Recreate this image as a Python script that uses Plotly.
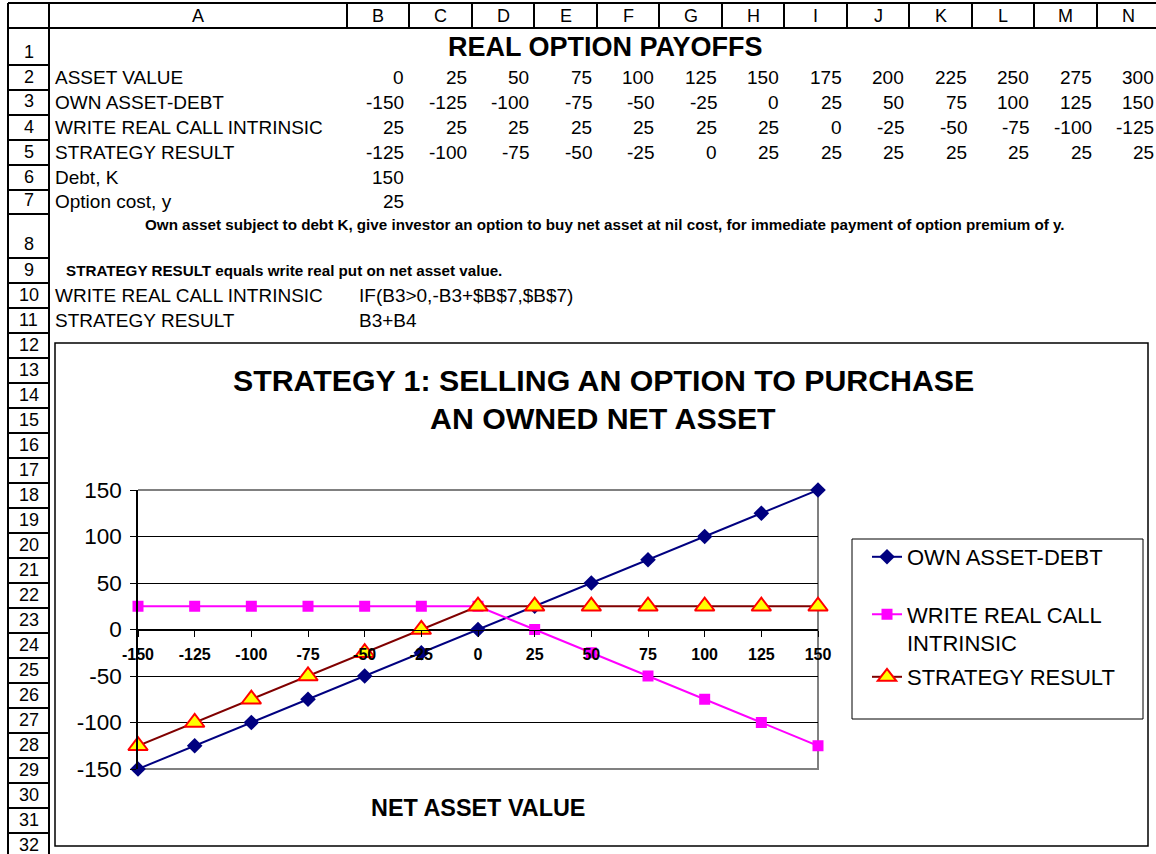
import plotly.graph_objects as go

W, H = 1156, 854

# spreadsheet data
columns = ["A", "B", "C", "D", "E", "F", "G", "H", "I", "J", "K", "L", "M", "N"]
asset_value = [0, 25, 50, 75, 100, 125, 150, 175, 200, 225, 250, 275, 300]
own_asset_debt = [-150, -125, -100, -75, -50, -25, 0, 25, 50, 75, 100, 125, 150]
write_call = [25, 25, 25, 25, 25, 25, 25, 0, -25, -50, -75, -100, -125]
strategy_result = [-125, -100, -75, -50, -25, 0, 25, 25, 25, 25, 25, 25, 25]
debt_k = 150
option_cost = 25

table_title = "REAL OPTION PAYOFFS"
row_names = ["ASSET VALUE", "OWN ASSET-DEBT", "WRITE REAL CALL INTRINSIC", "STRATEGY RESULT"]
note_row8 = ("Own asset subject to debt K, give investor an option to buy net asset at nil cost, "
             "for immediate payment of option premium of y.")
note_row9 = "STRATEGY RESULT equals write real put on net asset value."
formulas = [("WRITE REAL CALL INTRINSIC", "IF(B3>0,-B3+$B$7,$B$7)"),
            ("STRATEGY RESULT", "B3+B4")]

series_names = ["OWN ASSET-DEBT", "WRITE REAL CALL<br>INTRINSIC", "STRATEGY RESULT"]
y_ticks = [-150, -100, -50, 0, 50, 100, 150]

# sheet geometry (pixels)
col_edges = [8, 49, 347, 409, 472, 534, 597, 659, 722, 784, 847, 909, 972, 1034, 1097, 1159]
row_edges = [3, 28, 65, 90, 115, 140, 165, 190, 214, 258] + [258 + 25 * i for i in range(1, 25)]

FONT = "Arial, Liberation Sans, sans-serif"
TS = 19  # sheet text size


def X(p):
    return p / W


def Y(p):
    return 1 - p / H


shapes = []
annotations = []


def line(x0, y0, x1, y1, color="black", width=2):
    shapes.append(dict(type="line", xref="paper", yref="paper",
                       x0=X(x0), y0=Y(y0), x1=X(x1), y1=Y(y1),
                       line=dict(color=color, width=width)))


def text(x, y, s, anchor="left", size=TS, bold=False):
    annotations.append(dict(x=X(x), y=Y(y), xref="paper", yref="paper", text=s,
                            showarrow=False, xanchor=anchor, yanchor="middle",
                            font=dict(family=FONT, size=size, color="black",
                                      weight="bold" if bold else "normal")))


# headers
line(8, 3, 1156, 3)
line(8, 28, 1156, 28)
line(8, 3, 8, 854)
for xe in col_edges[1:]:
    line(xe, 3, xe, 28)
line(49, 3, 49, 854)
for ye in row_edges[1:]:
    line(8, ye, 49, ye)

for i, c in enumerate(columns):
    text((col_edges[i + 1] + col_edges[i + 2]) / 2, 16, c, anchor="center", size=18)
for r in range(1, len(row_edges) - 1):
    text(28.5, row_edges[r + 1] - 13.5, str(r), anchor="center", size=18)


def row_y(r):
    return row_edges[r + 1] - 12.5


# table contents
text(605, 47, table_title, anchor="center", size=27, bold=True)
for k, (name, vals) in enumerate(zip(row_names, [asset_value, own_asset_debt, write_call, strategy_result])):
    r = 2 + k
    text(53, row_y(r), name)
    for j, v in enumerate(vals):
        text(col_edges[3 + j] - 3, row_y(r), str(v), anchor="right")
text(53, row_y(6), "Debt, K")
text(col_edges[3] - 3, row_y(6), str(debt_k), anchor="right")
text(53, row_y(7), "Option cost, y")
text(col_edges[3] - 3, row_y(7), str(option_cost), anchor="right")
text(605, 224, note_row8, anchor="center", size=15.2, bold=True)
text(64, row_y(9), note_row9, size=15.2, bold=True)
for k, (a, b) in enumerate(formulas):
    text(53, row_y(10 + k), a)
    text(357, row_y(10 + k), b)

# chart frame
shapes.append(dict(type="rect", xref="paper", yref="paper", x0=X(55), y0=Y(846), x1=X(1148), y1=Y(343),
                   line=dict(color="black", width=1.5), fillcolor="white", layer="below"))
# plot area border (gray, top/right/bottom)
shapes.append(dict(type="path", xref="paper", yref="paper",
                   path="M %f,%f L %f,%f L %f,%f L %f,%f" % (X(138), Y(490), X(818), Y(490),
                                                            X(818), Y(769), X(138), Y(769)),
                   line=dict(color="#808080", width=2), layer="below"))
# legend box
shapes.append(dict(type="rect", xref="paper", yref="paper", x0=X(852), y0=Y(719), x1=X(1143), y1=Y(539),
                   line=dict(color="black", width=1)))

text(603, 380, "STRATEGY 1: SELLING AN OPTION TO PURCHASE", anchor="center", size=30.3, bold=True)
text(603, 418, "AN OWNED NET ASSET", anchor="center", size=30.3, bold=True)
text(478, 808, "NET ASSET VALUE", anchor="center", size=23.4, bold=True)

fig = go.Figure()
fig.add_trace(go.Scatter(
    x=own_asset_debt, y=own_asset_debt, name=series_names[0], mode="lines+markers",
    line=dict(color="#000080", width=2),
    marker=dict(symbol="diamond", size=12, color="#000080"),
    cliponaxis=False, legend="legend"))
fig.add_trace(go.Scatter(
    x=own_asset_debt, y=write_call, name=series_names[1], mode="lines+markers",
    line=dict(color="#FF00FF", width=2),
    marker=dict(symbol="square", size=11, color="#FF00FF"),
    cliponaxis=False, legend="legend2"))
fig.add_trace(go.Scatter(
    x=own_asset_debt, y=strategy_result, name=series_names[2], mode="lines+markers",
    line=dict(color="#800000", width=2),
    marker=dict(symbol="triangle-up", size=17, color="#FFFF00", line=dict(color="#FF0000", width=2)),
    cliponaxis=False, legend="legend3"))

leg = dict(font=dict(family=FONT, size=22, color="black"), bgcolor="rgba(0,0,0,0)",
           xanchor="left", yanchor="middle", visible=True)
fig.update_layout(
    width=W, height=H, autosize=False, showlegend=True,
    margin=dict(l=0, r=0, t=0, b=0, pad=0, autoexpand=False),
    paper_bgcolor="white", plot_bgcolor="white",
    font=dict(family=FONT, color="black"),
    shapes=shapes, annotations=annotations,
    legend=dict(leg, x=X(867), y=Y(557)),
    legend2=dict(leg, x=X(867), y=Y(629), valign="top"),
    legend3=dict(leg, x=X(867), y=Y(677)),
    xaxis=dict(domain=[X(138), X(818)], range=[-150, 150], tickvals=own_asset_debt,
               ticktext=[str(v) for v in own_asset_debt],
               anchor="free", position=Y(629.5), showline=True, linecolor="black", linewidth=1,
               ticks="outside", ticklen=6, tickcolor="black", showgrid=False, zeroline=False,
               tickfont=dict(family=FONT, size=16, color="black", weight="bold"),
               ticklabelstandoff=4, automargin=False),
    yaxis=dict(domain=[Y(769), Y(490)], range=[-150, 150], tickvals=y_ticks,
               ticktext=[str(v) for v in y_ticks],
               showline=True, linecolor="black", linewidth=1.5, ticks="outside", ticklen=6,
               tickcolor="black", showgrid=True, gridcolor="black", gridwidth=1, zeroline=False,
               tickfont=dict(family=FONT, size=22.5, color="black"), ticklabelstandoff=4,
               automargin=False),
)

fig.write_html("out.html", config={"displayModeBar": False},
               post_script="document.body.style.margin='0px';document.body.style.overflow='hidden';")
